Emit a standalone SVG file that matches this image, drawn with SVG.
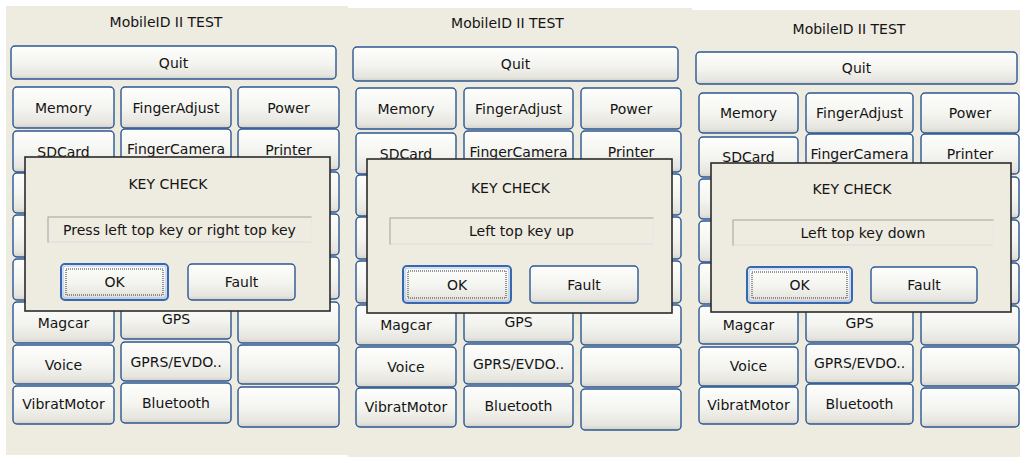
<svg xmlns="http://www.w3.org/2000/svg" width="1020" height="457" viewBox="0 0 1020 457">
<defs>
<linearGradient id="g" x1="0" y1="0" x2="0" y2="1">
<stop offset="0" stop-color="#fefefd"/>
<stop offset="0.55" stop-color="#f3f3ef"/>
<stop offset="0.88" stop-color="#e6e5df"/>
<stop offset="1" stop-color="#d3d1c8"/>
</linearGradient>
<style>
.bg{fill:#eeebe1}
.btn{fill:url(#g);stroke:#2c5892;stroke-width:1.4}
.ok{fill:url(#g);stroke:#3767b2;stroke-width:2}
.okin{fill:none;stroke:#a9c3ea;stroke-width:1}
.focus{fill:none;stroke:#333;stroke-width:1;stroke-dasharray:1 1}
.dlg{fill:#eeebe1;stroke:#2b2b2b;stroke-width:1.6}
.fld{fill:#eeebe1;stroke:#a3a29c;stroke-width:1}
.hl{stroke:#ffffff;stroke-width:1.2;fill:none}
.t{font-family:"DejaVu Sans","Liberation Sans",sans-serif;font-size:14px;fill:#141414;text-anchor:middle}
</style>
</defs>
<rect width="1020" height="457" fill="#ffffff"/>
<g id="connectors"/>

<!-- Panel 1 -->
<g id="panel1">
<rect class="bg" x="6" y="6" width="342" height="449"/>
<g id="p1-title"><text class="t" x="166" y="27">MobileID II TEST</text></g>
<g id="p1-quit"><rect class="btn" x="11" y="46" width="325" height="33" rx="4"/><text class="t" x="173.5" y="67.5">Quit</text></g>
<g id="p1-memory"><rect class="btn" x="13" y="87" width="101" height="41" rx="4"/><text class="t" x="63.5" y="112.5">Memory</text></g>
<g id="p1-sdcard"><rect class="btn" x="13" y="131" width="101" height="41" rx="4"/><text class="t" x="63.5" y="156.5">SDCard</text></g>
<g id="p1-c1r3"><rect class="btn" x="13" y="173" width="101" height="40" rx="4"/></g>
<g id="p1-c1r4"><rect class="btn" x="13" y="215" width="101" height="42" rx="4"/></g>
<g id="p1-c1r5"><rect class="btn" x="13" y="259" width="101" height="41" rx="4"/></g>
<g id="p1-magcar"><rect class="btn" x="13" y="302" width="101" height="41" rx="4"/><text class="t" x="63.5" y="327.5">Magcar</text></g>
<g id="p1-voice"><rect class="btn" x="13" y="345" width="101" height="39" rx="4"/><text class="t" x="63.5" y="369.5">Voice</text></g>
<g id="p1-vibrat"><rect class="btn" x="13" y="386" width="101" height="38" rx="4"/><text class="t" x="63.5" y="409">VibratMotor</text></g>
<g id="p1-fingeradjust"><rect class="btn" x="121" y="87" width="110" height="41" rx="4"/><text class="t" x="176" y="112.5">FingerAdjust</text></g>
<g id="p1-fingercamera"><rect class="btn" x="121" y="129" width="110" height="40" rx="4"/><text class="t" x="176" y="154">FingerCamera</text></g>
<g id="p1-c2r3"><rect class="btn" x="121" y="171" width="110" height="40" rx="4"/></g>
<g id="p1-c2r4"><rect class="btn" x="121" y="213" width="110" height="41" rx="4"/></g>
<g id="p1-c2r5"><rect class="btn" x="121" y="256" width="110" height="41" rx="4"/></g>
<g id="p1-gps"><rect class="btn" x="121" y="299" width="110" height="40" rx="4"/><text class="t" x="176" y="324">GPS</text></g>
<g id="p1-gprs"><rect class="btn" x="121" y="342" width="110" height="39" rx="4"/><text class="t" x="176" y="366.5">GPRS/EVDO..</text></g>
<g id="p1-bluetooth"><rect class="btn" x="121" y="383" width="110" height="40" rx="4"/><text class="t" x="176" y="408">Bluetooth</text></g>
<g id="p1-power"><rect class="btn" x="238" y="87" width="101" height="41" rx="4"/><text class="t" x="288.5" y="112.5">Power</text></g>
<g id="p1-printer"><rect class="btn" x="238" y="129" width="101" height="41" rx="4"/><text class="t" x="288.5" y="154.5">Printer</text></g>
<g id="p1-c3r3"><rect class="btn" x="238" y="172" width="101" height="40" rx="4"/></g>
<g id="p1-c3r4"><rect class="btn" x="238" y="214" width="101" height="41" rx="4"/></g>
<g id="p1-c3r5"><rect class="btn" x="238" y="257" width="101" height="42" rx="4"/></g>
<g id="p1-c3r6"><rect class="btn" x="238" y="302" width="101" height="41" rx="4"/></g>
<g id="p1-c3r7"><rect class="btn" x="238" y="345" width="101" height="39" rx="4"/></g>
<g id="p1-c3r8"><rect class="btn" x="238" y="387" width="101" height="40" rx="4"/></g>
<g id="p1-dialog">
<rect class="dlg" x="25" y="157" width="305" height="154"/>
<text class="t" x="168" y="189">KEY CHECK</text>
<rect class="fld" x="48" y="217" width="263" height="25"/>
<path class="hl" d="M48.5 242 H311 V217.5"/>
<text class="t" x="179.5" y="234.5">Press left top key or right top key</text>
<rect class="ok" x="61" y="264" width="107" height="36" rx="4"/>
<rect class="okin" x="63" y="266" width="103" height="32" rx="3"/>
<rect class="focus" x="66" y="269" width="97" height="26"/>
<text class="t" x="114.5" y="287">OK</text>
<rect class="btn" x="188" y="264" width="107" height="36" rx="4"/>
<text class="t" x="241.5" y="287">Fault</text>
</g>
</g>

<!-- Panel 2 -->
<g id="panel2">
<rect class="bg" x="348" y="8" width="344" height="449"/>
<g id="p2-title"><text class="t" x="507.5" y="28">MobileID II TEST</text></g>
<g id="p2-quit"><rect class="btn" x="353" y="47" width="325" height="34" rx="4"/><text class="t" x="515.5" y="69">Quit</text></g>
<g id="p2-memory"><rect class="btn" x="356" y="88" width="100" height="41" rx="4"/><text class="t" x="406" y="113.5">Memory</text></g>
<g id="p2-sdcard"><rect class="btn" x="356" y="133" width="100" height="41" rx="4"/><text class="t" x="406" y="158.5">SDCard</text></g>
<g id="p2-c1r3"><rect class="btn" x="356" y="175" width="100" height="41" rx="4"/></g>
<g id="p2-c1r4"><rect class="btn" x="356" y="217" width="100" height="42" rx="4"/></g>
<g id="p2-c1r5"><rect class="btn" x="356" y="261" width="100" height="42" rx="4"/></g>
<g id="p2-magcar"><rect class="btn" x="356" y="305" width="100" height="40" rx="4"/><text class="t" x="406" y="330">Magcar</text></g>
<g id="p2-voice"><rect class="btn" x="356" y="347" width="100" height="40" rx="4"/><text class="t" x="406" y="372">Voice</text></g>
<g id="p2-vibrat"><rect class="btn" x="356" y="388" width="100" height="39" rx="4"/><text class="t" x="406" y="411.5">VibratMotor</text></g>
<g id="p2-fingeradjust"><rect class="btn" x="464" y="88" width="109" height="41" rx="4"/><text class="t" x="518.5" y="113.5">FingerAdjust</text></g>
<g id="p2-fingercamera"><rect class="btn" x="464" y="131" width="109" height="41" rx="4"/><text class="t" x="518.5" y="156.5">FingerCamera</text></g>
<g id="p2-c2r3"><rect class="btn" x="464" y="174" width="109" height="41" rx="4"/></g>
<g id="p2-c2r4"><rect class="btn" x="464" y="216" width="109" height="42" rx="4"/></g>
<g id="p2-c2r5"><rect class="btn" x="464" y="259" width="109" height="41" rx="4"/></g>
<g id="p2-gps"><rect class="btn" x="464" y="302" width="109" height="40" rx="4"/><text class="t" x="518.5" y="327">GPS</text></g>
<g id="p2-gprs"><rect class="btn" x="464" y="344" width="109" height="40" rx="4"/><text class="t" x="518.5" y="369">GPRS/EVDO..</text></g>
<g id="p2-bluetooth"><rect class="btn" x="464" y="386" width="109" height="41" rx="4"/><text class="t" x="518.5" y="410.5">Bluetooth</text></g>
<g id="p2-power"><rect class="btn" x="581" y="88" width="100" height="41" rx="4"/><text class="t" x="631" y="113.5">Power</text></g>
<g id="p2-printer"><rect class="btn" x="581" y="131" width="100" height="41" rx="4"/><text class="t" x="631" y="156.5">Printer</text></g>
<g id="p2-c3r3"><rect class="btn" x="581" y="174" width="100" height="41" rx="4"/></g>
<g id="p2-c3r4"><rect class="btn" x="581" y="217" width="100" height="42" rx="4"/></g>
<g id="p2-c3r5"><rect class="btn" x="581" y="261" width="100" height="42" rx="4"/></g>
<g id="p2-c3r6"><rect class="btn" x="581" y="305" width="100" height="40" rx="4"/></g>
<g id="p2-c3r7"><rect class="btn" x="581" y="347" width="100" height="40" rx="4"/></g>
<g id="p2-c3r8"><rect class="btn" x="581" y="389" width="100" height="41" rx="4"/></g>
<g id="p2-dialog">
<rect class="dlg" x="367" y="159" width="305" height="154"/>
<text class="t" x="510.5" y="193">KEY CHECK</text>
<rect class="fld" x="390" y="218" width="263" height="26"/>
<path class="hl" d="M390.5 244 H653 V218.5"/>
<text class="t" x="521.5" y="236">Left top key up</text>
<rect class="ok" x="403" y="266" width="108" height="37" rx="4"/>
<rect class="okin" x="405" y="268" width="104" height="33" rx="3"/>
<rect class="focus" x="408" y="271" width="98" height="27"/>
<text class="t" x="457" y="289.5">OK</text>
<rect class="btn" x="530" y="266" width="108" height="37" rx="4"/>
<text class="t" x="584" y="289.5">Fault</text>
</g>
</g>

<!-- Panel 3 -->
<g id="panel3">
<rect class="bg" x="692" y="10" width="328" height="447"/>
<g id="p3-title"><text class="t" x="849" y="34">MobileID II TEST</text></g>
<g id="p3-quit"><rect class="btn" x="696" y="52" width="321" height="32" rx="4"/><text class="t" x="856.5" y="73">Quit</text></g>
<g id="p3-memory"><rect class="btn" x="699" y="93" width="99" height="40" rx="4"/><text class="t" x="748.5" y="118">Memory</text></g>
<g id="p3-sdcard"><rect class="btn" x="699" y="137" width="99" height="40" rx="4"/><text class="t" x="748.5" y="162">SDCard</text></g>
<g id="p3-c1r3"><rect class="btn" x="699" y="179" width="99" height="40" rx="4"/></g>
<g id="p3-c1r4"><rect class="btn" x="699" y="221" width="99" height="41" rx="4"/></g>
<g id="p3-c1r5"><rect class="btn" x="699" y="263" width="99" height="41" rx="4"/></g>
<g id="p3-magcar"><rect class="btn" x="699" y="306" width="99" height="38" rx="4"/><text class="t" x="748.5" y="330">Magcar</text></g>
<g id="p3-voice"><rect class="btn" x="699" y="347" width="99" height="39" rx="4"/><text class="t" x="748.5" y="371">Voice</text></g>
<g id="p3-vibrat"><rect class="btn" x="699" y="387" width="99" height="37" rx="4"/><text class="t" x="748.5" y="409.5">VibratMotor</text></g>
<g id="p3-fingeradjust"><rect class="btn" x="806" y="93" width="107" height="40" rx="4"/><text class="t" x="859.5" y="118">FingerAdjust</text></g>
<g id="p3-fingercamera"><rect class="btn" x="806" y="134" width="107" height="40" rx="4"/><text class="t" x="859.5" y="159">FingerCamera</text></g>
<g id="p3-c2r3"><rect class="btn" x="806" y="176" width="107" height="41" rx="4"/></g>
<g id="p3-c2r4"><rect class="btn" x="806" y="219" width="107" height="41" rx="4"/></g>
<g id="p3-c2r5"><rect class="btn" x="806" y="262" width="107" height="40" rx="4"/></g>
<g id="p3-gps"><rect class="btn" x="806" y="304" width="107" height="38" rx="4"/><text class="t" x="859.5" y="327.5">GPS</text></g>
<g id="p3-gprs"><rect class="btn" x="806" y="344" width="107" height="39" rx="4"/><text class="t" x="859.5" y="368">GPRS/EVDO..</text></g>
<g id="p3-bluetooth"><rect class="btn" x="806" y="384" width="107" height="40" rx="4"/><text class="t" x="859.5" y="409">Bluetooth</text></g>
<g id="p3-power"><rect class="btn" x="921" y="93" width="98" height="40" rx="4"/><text class="t" x="970" y="118">Power</text></g>
<g id="p3-printer"><rect class="btn" x="921" y="134" width="98" height="40" rx="4"/><text class="t" x="970" y="159">Printer</text></g>
<g id="p3-c3r3"><rect class="btn" x="921" y="177" width="98" height="41" rx="4"/></g>
<g id="p3-c3r4"><rect class="btn" x="921" y="220" width="98" height="41" rx="4"/></g>
<g id="p3-c3r5"><rect class="btn" x="921" y="263" width="98" height="41" rx="4"/></g>
<g id="p3-c3r6"><rect class="btn" x="921" y="306" width="98" height="39" rx="4"/></g>
<g id="p3-c3r7"><rect class="btn" x="921" y="347" width="98" height="39" rx="4"/></g>
<g id="p3-c3r8"><rect class="btn" x="921" y="388" width="98" height="39" rx="4"/></g>
<g id="p3-dialog">
<rect class="dlg" x="711" y="163" width="300" height="149"/>
<text class="t" x="852" y="194">KEY CHECK</text>
<rect class="fld" x="733" y="220" width="260" height="25"/>
<path class="hl" d="M733.5 245 H993 V220.5"/>
<text class="t" x="863" y="237.5">Left top key down</text>
<rect class="ok" x="747" y="267" width="105" height="36" rx="4"/>
<rect class="okin" x="749" y="269" width="101" height="32" rx="3"/>
<rect class="focus" x="752" y="272" width="95" height="26"/>
<text class="t" x="799.5" y="290">OK</text>
<rect class="btn" x="871" y="267" width="106" height="36" rx="4"/>
<text class="t" x="924" y="290">Fault</text>
</g>
</g>
</svg>
